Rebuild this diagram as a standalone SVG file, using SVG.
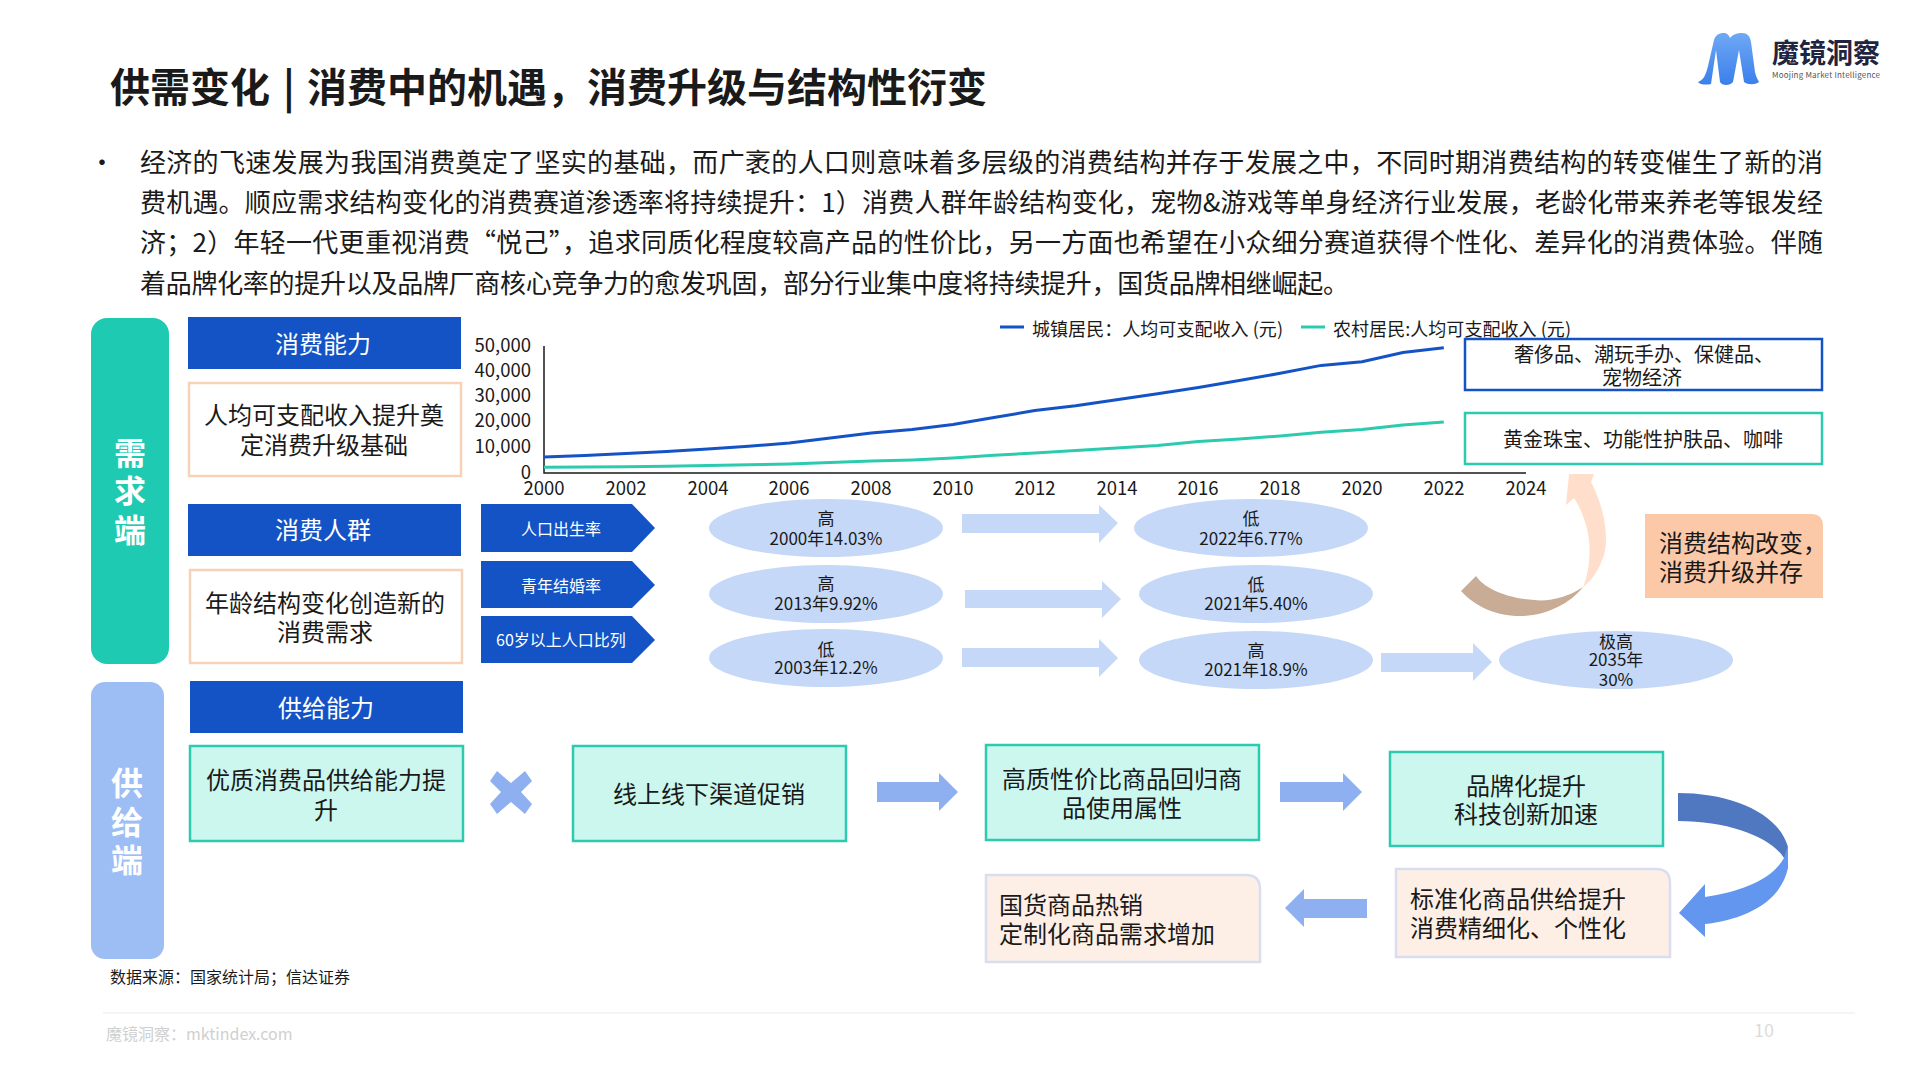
<svg xmlns="http://www.w3.org/2000/svg" width="1920" height="1080" viewBox="0 0 1920 1080">
<style>
text{font-family:"Noto Sans CJK SC","Noto Sans",sans-serif;fill:#1a1a1a;dominant-baseline:central;transform:translateY(-2px)}
.m{text-anchor:middle}
.e{text-anchor:end}
.hd{fill:#1353C6}
.hdt{fill:#fff;font-size:24px;text-anchor:middle}
.t24{font-size:24px}
.t20{font-size:20px}
.t17{font-size:17px;text-anchor:middle}
.ax{font-size:18.5px}
.body{font-size:26px}
.side{fill:#fff;font-size:32px;font-weight:700;text-anchor:middle}
.pe{fill:#fff;stroke:#F8D2B8;stroke-width:2.5}
.te{fill:#CCF7EF;stroke:#2CCBB0;stroke-width:2.5}
.ro{fill:#FDEFE6;stroke:#D9DDF0;stroke-width:2.5}
.el{fill:#C5D8F8}
.la{fill:#C5D8F8}
.ma{fill:#8FB0F0}
.ch{fill:#1353C6}
.cht{fill:#fff;font-size:16px;text-anchor:middle}
</style>
<defs>
<linearGradient id="lg" x1="0" y1="0" x2="0" y2="1"><stop offset="0" stop-color="#6FA8F5"/><stop offset="1" stop-color="#3A7FEA"/></linearGradient>
</defs>
<rect width="1920" height="1080" fill="#fff"/>

<g id="title"><text y="87" font-size="40" font-weight="700"><tspan x="110">供需变化</tspan><tspan x="283">|</tspan><tspan x="307">消费中的机遇，消费升级与结构性衍变</tspan></text></g>

<g id="logo">
<path d="M1698,82C1704,80 1706,74 1708,66L1714,40C1716,34 1720,33 1724,33C1727,33 1729,35 1730,38C1733,34 1738,33 1742,33C1747,33 1750,36 1751,42L1755,72C1756,77 1758,80 1759,82C1755,85 1748,85 1744,82L1739,50L1733,82C1730,86 1722,86 1720,82L1716,50L1711,84C1707,85 1700,85 1698,82Z" fill="url(#lg)"/>
<text x="1772" y="53" font-size="27" font-weight="700" style="fill:#1f2440">魔镜洞察</text>
<text x="1772" y="76" font-size="8" textLength="108" style="fill:#555">Moojing Market Intelligence</text>
</g>

<g id="intro">
<text class="body" x="89" y="162">•</text>
<text class="body" x="140" y="162" textLength="1683" lengthAdjust="spacing">经济的飞速发展为我国消费奠定了坚实的基础，而广袤的人口则意味着多层级的消费结构并存于发展之中，不同时期消费结构的转变催生了新的消</text>
<text class="body" x="140" y="202" textLength="1683" lengthAdjust="spacing">费机遇。顺应需求结构变化的消费赛道渗透率将持续提升：1）消费人群年龄结构变化，宠物&amp;游戏等单身经济行业发展，老龄化带来养老等银发经</text>
<text class="body" x="140" y="242" textLength="1683" lengthAdjust="spacing">济；2）年轻一代更重视消费“悦己”，追求同质化程度较高产品的性价比，另一方面也希望在小众细分赛道获得个性化、差异化的消费体验。伴随</text>
<text class="body" x="140" y="283" textLength="1209" lengthAdjust="spacing">着品牌化率的提升以及品牌厂商核心竞争力的愈发巩固，部分行业集中度将持续提升，国货品牌相继崛起。</text>
</g>

<g id="demand-side"><rect x="91" y="318" width="78" height="346" rx="16" fill="#1FCAB2"/>
<text class="side" x="130" y="453">需</text><text class="side" x="130" y="491">求</text><text class="side" x="130" y="530">端</text></g>
<g id="supply-side"><rect x="91" y="682" width="73" height="277" rx="14" fill="#9DBDF5"/>
<text class="side" x="127" y="783">供</text><text class="side" x="127" y="822">给</text><text class="side" x="127" y="860">端</text></g>

<g id="h-capacity"><rect class="hd" x="188" y="317" width="273" height="52"/><text class="hdt" x="323" y="344">消费能力</text></g>
<g id="b-income"><rect class="pe" x="189" y="383" width="272" height="93"/><text class="t24 m" x="324" y="415">人均可支配收入提升奠</text><text class="t24 m" x="324" y="445">定消费升级基础</text></g>
<g id="h-people"><rect class="hd" x="188" y="504" width="273" height="52"/><text class="hdt" x="323" y="530">消费人群</text></g>
<g id="b-age"><rect class="pe" x="190" y="570" width="272" height="93"/><text class="t24 m" x="325" y="603">年龄结构变化创造新的</text><text class="t24 m" x="325" y="632">消费需求</text></g>
<g id="h-supply"><rect class="hd" x="190" y="681" width="273" height="52"/><text class="hdt" x="326" y="708">供给能力</text></g>

<g id="chart">
<g stroke="#1a1a1a" stroke-width="1.5" fill="none"><path d="M544,346V473H1526"/></g>
<g class="ax">
<text class="ax e" x="531" y="346">50,000</text><text class="ax e" x="531" y="371">40,000</text><text class="ax e" x="531" y="396">30,000</text><text class="ax e" x="531" y="421">20,000</text><text class="ax e" x="531" y="447">10,000</text><text class="ax e" x="531" y="473">0</text>
<text class="ax m" x="544" y="489">2000</text><text class="ax m" x="626" y="489">2002</text><text class="ax m" x="708" y="489">2004</text><text class="ax m" x="789" y="489">2006</text><text class="ax m" x="871" y="489">2008</text><text class="ax m" x="953" y="489">2010</text><text class="ax m" x="1035" y="489">2012</text><text class="ax m" x="1117" y="489">2014</text><text class="ax m" x="1198" y="489">2016</text><text class="ax m" x="1280" y="489">2018</text><text class="ax m" x="1362" y="489">2020</text><text class="ax m" x="1444" y="489">2022</text><text class="ax m" x="1526" y="489">2024</text>
</g>
<polyline fill="none" stroke="#1353C6" stroke-width="3" points="544,457 584.9,455.6 625.8,453.4 666.7,451.5 707.6,449.1 748.5,446.3 789.4,443.1 830.3,438 871.2,432.9 912.1,429.4 953,424.5 993.9,417.6 1034.8,410.6 1075.7,405.8 1116.6,399.7 1157.5,393.8 1198.4,387.6 1239.3,380.6 1280.2,373.3 1321.1,365.4 1362,361.7 1402.9,352.6 1443.8,347.8"/>
<polyline fill="none" stroke="#2CCBB0" stroke-width="3" points="544,467.3 584.9,467 625.8,466.7 666.7,466.3 707.6,465.5 748.5,464.7 789.4,463.9 830.3,462.5 871.2,460.9 912.1,459.9 953,458 993.9,455.3 1034.8,452.9 1075.7,450.4 1116.6,447.9 1157.5,445.6 1198.4,441.6 1239.3,438.9 1280.2,435.9 1321.1,432.3 1362,429.5 1402.9,424.9 1443.8,421.9"/>
<path d="M1000,327H1024" stroke="#1353C6" stroke-width="3"/><text x="1032" y="330" font-size="18" textLength="251">城镇居民：人均可支配收入 (元)</text>
<path d="M1301,327H1325" stroke="#2CCBB0" stroke-width="3"/><text x="1333" y="330" font-size="18" textLength="238">农村居民:人均可支配收入 (元)</text>
</g>

<g id="b-urban"><rect x="1465" y="339" width="357" height="51" fill="#fff" stroke="#1353C6" stroke-width="2.5"/><text class="t20 m" x="1644" y="355">奢侈品、潮玩手办、保健品、</text><text class="t20 m" x="1642" y="378">宠物经济</text></g>
<g id="b-rural"><rect x="1465" y="413" width="357" height="51" fill="#fff" stroke="#2CCBB0" stroke-width="2.5"/><text class="t20 m" x="1643" y="440">黄金珠宝、功能性护肤品、咖啡</text></g>

<g id="c-birth"><path class="ch" d="M481,504H632L655,528L632,552H481Z"/><text class="cht" x="561" y="530">人口出生率</text></g>
<g id="c-marry"><path class="ch" d="M481,561H632L655,585L632,608H481Z"/><text class="cht" x="561" y="587">青年结婚率</text></g>
<g id="c-elder"><path class="ch" d="M481,616H632L655,640L632,663H481Z"/><text class="cht" x="561" y="641">60岁以上人口比列</text></g>

<g id="e-birth-1"><ellipse class="el" cx="826" cy="528" rx="117" ry="29"/><text class="t17" x="826" y="519">高</text><text class="t17" x="826" y="539">2000年14.03%</text></g>
<g id="e-birth-2"><ellipse class="el" cx="1251" cy="528" rx="117" ry="29"/><text class="t17" x="1251" y="519">低</text><text class="t17" x="1251" y="539">2022年6.77%</text></g>
<g id="e-marry-1"><ellipse class="el" cx="826" cy="594" rx="117" ry="29"/><text class="t17" x="826" y="584">高</text><text class="t17" x="826" y="604">2013年9.92%</text></g>
<g id="e-marry-2"><ellipse class="el" cx="1256" cy="594" rx="117" ry="29"/><text class="t17" x="1256" y="585">低</text><text class="t17" x="1256" y="604">2021年5.40%</text></g>
<g id="e-elder-1"><ellipse class="el" cx="826" cy="658" rx="117" ry="29"/><text class="t17" x="826" y="650">低</text><text class="t17" x="826" y="668">2003年12.2%</text></g>
<g id="e-elder-2"><ellipse class="el" cx="1256" cy="660" rx="117" ry="29"/><text class="t17" x="1256" y="651">高</text><text class="t17" x="1256" y="670">2021年18.9%</text></g>
<g id="e-elder-3"><ellipse class="el" cx="1616" cy="660" rx="117" ry="29"/><text class="t17" x="1616" y="642">极高</text><text class="t17" x="1616" y="660">2035年</text><text class="t17" x="1616" y="680">30%</text></g>

<g id="b-change"><path d="M1645,514H1811Q1823,514 1823,526V598H1645Z" fill="#FCC9A8"/><text class="t24" x="1659" y="543">消费结构改变，</text><text class="t24" x="1659" y="572">消费升级并存</text></g>

<g id="b-quality"><rect class="te" x="190" y="746" width="273" height="95"/><text class="t24 m" x="326" y="780">优质消费品供给能力提</text><text class="t24 m" x="326" y="810">升</text></g>
<g id="b-channel"><rect class="te" x="573" y="746" width="273" height="95"/><text class="t24 m" x="709" y="794">线上线下渠道促销</text></g>
<g id="b-value"><rect class="te" x="986" y="745" width="273" height="95"/><text class="t24 m" x="1122" y="779">高质性价比商品回归商</text><text class="t24 m" x="1122" y="808">品使用属性</text></g>
<g id="b-brand"><rect class="te" x="1390" y="752" width="273" height="94"/><text class="t24 m" x="1526" y="786">品牌化提升</text><text class="t24 m" x="1526" y="814">科技创新加速</text></g>
<g id="b-standard"><path class="ro" d="M1396,869H1656Q1670,869 1670,883V957H1396Z"/><text class="t24" x="1410" y="899">标准化商品供给提升</text><text class="t24" x="1410" y="928">消费精细化、个性化</text></g>
<g id="b-domestic"><path class="ro" d="M986,875H1246Q1260,875 1260,889V962H986Z"/><text class="t24" x="999" y="905">国货商品热销</text><text class="t24" x="999" y="934">定制化商品需求增加</text></g>

<g id="connectors">
<path class="la" d="M962,514H1099V505L1118,523L1099,543V533H962Z"/>
<path class="la" d="M965,590H1102V581L1121,599L1102,618V608H965Z"/>
<path class="la" d="M962,648H1099V639L1118,658L1099,677V667H962Z"/>
<path class="la" d="M1381,653H1473V643L1492,662L1473,681V672H1381Z"/>
<path class="ma" d="M877,782H939V773L958,792L939,811V802H877Z"/>
<path class="ma" d="M1280,782H1343V773L1362,792L1343,811V802H1280Z"/>
<path class="ma" d="M1367,899H1304V889L1285,908L1304,927V918H1367Z"/>
<path class="ma" d="M490,781L497,771L511,783L525,771L532,781L521,792L532,804L525,814L511,802L497,814L490,804L501,792Z"/>
<path d="M1678,793C1730,793 1778,812 1788,847L1788,862L1784,858C1772,838 1730,821 1678,821Z" fill="#4F78C0"/>
<path d="M1788,845V868C1780,905 1740,920 1705,924V937L1679,913L1705,884V897C1740,892 1772,880 1784,858Z" fill="#6396EE"/>
<path d="M1566,505L1569,474H1594L1591,482C1606,510 1610,545 1602,560C1598,572 1590,582 1583,587C1590,570 1592,545 1586,525C1582,512 1578,504 1574,498Z" fill="#FFDFCC"/>
<path d="M1476,576L1461,591C1475,606 1495,616 1520,616C1545,616 1570,604 1583,587C1570,596 1550,602 1534,600C1515,599 1487,592 1476,576Z" fill="#C8AC96"/>
</g>

<g id="source"><text x="110" y="978" font-size="16">数据来源：国家统计局；信达证券</text></g>
<g id="footer"><path d="M103,1013H1855" stroke="#F2F2F2" stroke-width="1.5"/>
<text x="106" y="1035" font-size="16" style="fill:#d0d0d0">魔镜洞察：mktindex.com</text>
<text x="1754" y="1031" font-size="18" style="fill:#dcdcdc">10</text></g>
</svg>
